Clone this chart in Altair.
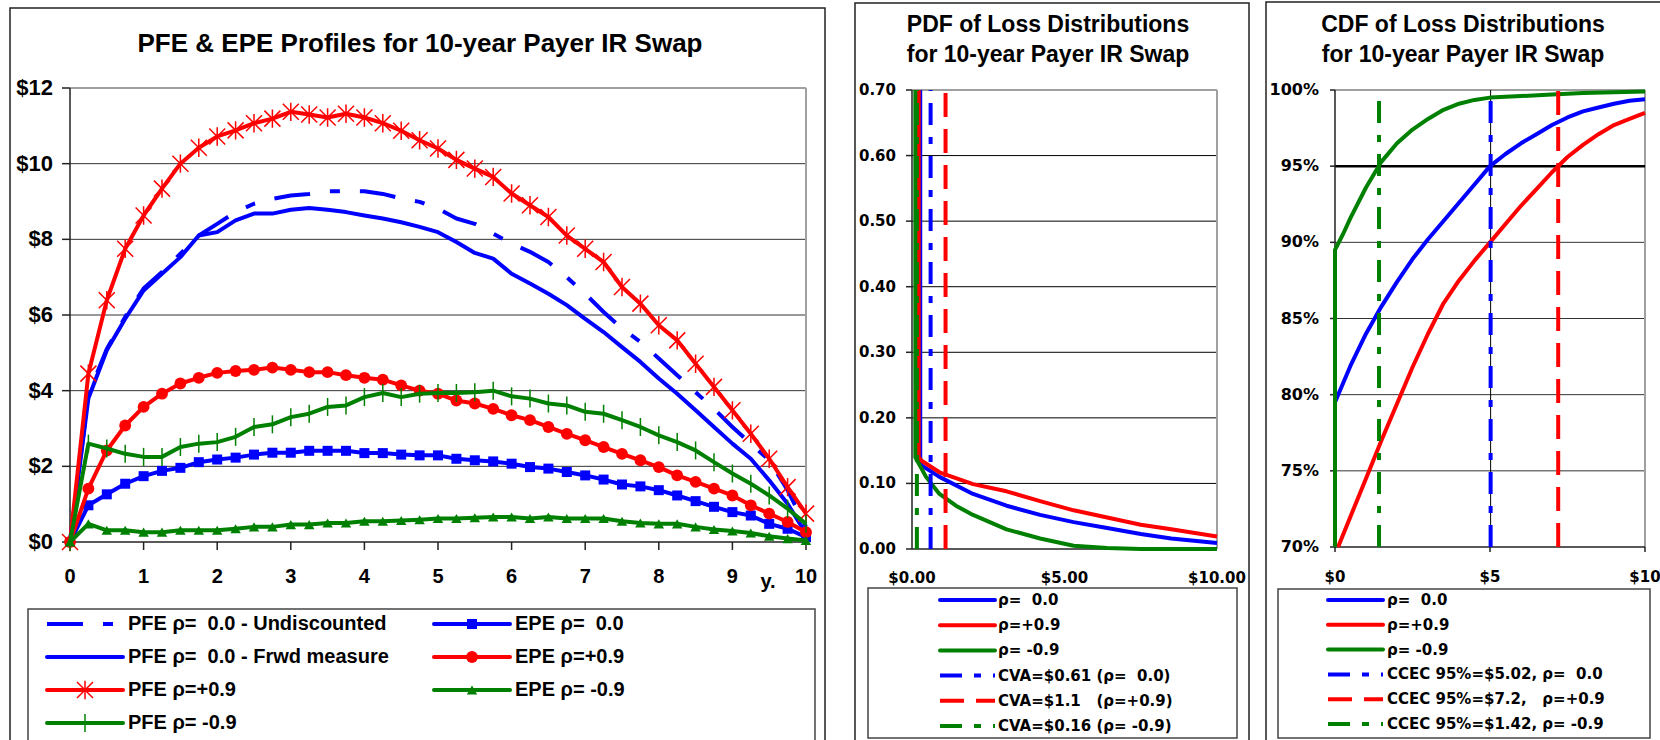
import altair as alt
import pandas as pd

# ---------------- exposure profiles (quarterly grid, years) ----------------
T = [i * 0.25 for i in range(41)]

PFE_UNDISC = [0, 3.9, 5.1, 5.95, 6.7, 7.14, 7.62, 8.1, 8.41, 8.72,
              8.94, 9.07, 9.16, 9.2, 9.27, 9.27, 9.27, 9.2, 9.08, 8.99,
              8.81, 8.55, 8.41, 8.15, 7.89, 7.67, 7.4, 7.0, 6.56, 6.08,
              5.64, 5.29, 4.85, 4.41, 3.96, 3.52, 3.04, 2.6, 2.16, 1.37, 0.4]
PFE_FRWD = [0, 3.8, 5.07, 5.9, 6.65, 7.09, 7.53, 8.1, 8.19, 8.5,
            8.68, 8.68, 8.78, 8.83, 8.78, 8.72, 8.63, 8.55, 8.45, 8.33,
            8.19, 7.93, 7.64, 7.49, 7.09, 6.83, 6.56, 6.26, 5.9, 5.55,
            5.15, 4.76, 4.32, 3.92, 3.48, 3.04, 2.6, 2.2, 1.63, 1.01, 0.22]
PFE_POS = [0, 4.45, 6.39, 7.75, 8.63, 9.34, 10.0, 10.42, 10.72, 10.88,
           11.07, 11.19, 11.37, 11.30, 11.22, 11.32, 11.22, 11.07, 10.87, 10.62,
           10.40, 10.10, 9.87, 9.65, 9.21, 8.90, 8.59, 8.10, 7.75, 7.40,
           6.74, 6.30, 5.73, 5.33, 4.71, 4.10, 3.48, 2.86, 2.20, 1.45, 0.75]
PFE_NEG = [0, 2.6, 2.47, 2.33, 2.25, 2.25, 2.51, 2.6, 2.64, 2.78,
           3.04, 3.11, 3.3, 3.39, 3.57, 3.61, 3.83, 3.94, 3.83, 3.92,
           3.94, 3.94, 3.96, 4.0, 3.85, 3.79, 3.66, 3.61, 3.44, 3.39,
           3.22, 3.04, 2.82, 2.64, 2.42, 2.11, 1.81, 1.54, 1.23, 0.88, 0.48]
EPE_ZERO = [0, 0.97, 1.26, 1.54, 1.74, 1.88, 1.96, 2.11, 2.18, 2.23,
            2.31, 2.36, 2.36, 2.41, 2.41, 2.41, 2.35, 2.35, 2.31, 2.29,
            2.29, 2.2, 2.16, 2.13, 2.07, 1.98, 1.94, 1.85, 1.76, 1.65,
            1.52, 1.47, 1.37, 1.23, 1.08, 0.93, 0.79, 0.7, 0.48, 0.35, 0.13]
EPE_POS = [0, 1.41, 2.42, 3.08, 3.57, 3.92, 4.19, 4.34, 4.47, 4.52,
           4.55, 4.61, 4.55, 4.49, 4.49, 4.41, 4.34, 4.29, 4.14, 4.0,
           3.92, 3.74, 3.66, 3.52, 3.35, 3.22, 3.04, 2.86, 2.69, 2.51,
           2.33, 2.16, 1.98, 1.76, 1.59, 1.41, 1.23, 0.97, 0.75, 0.53, 0.26]
EPE_NEG = [0, 0.48, 0.31, 0.31, 0.26, 0.26, 0.31, 0.31, 0.31, 0.35,
           0.4, 0.4, 0.46, 0.46, 0.5, 0.5, 0.55, 0.55, 0.57, 0.59,
           0.62, 0.62, 0.64, 0.66, 0.66, 0.62, 0.66, 0.62, 0.62, 0.62,
           0.55, 0.5, 0.48, 0.48, 0.4, 0.33, 0.29, 0.24, 0.15, 0.09, 0.04]
YEAR_TICKS = list(range(11))
USD_TICKS = [0, 2, 4, 6, 8, 10, 12]

# ---------------- PDF of loss distributions ----------------
PDF_ZERO_X = [0.27, 0.27, 0.30, 0.9, 2.0, 3.1, 4.2, 5.3, 6.4, 7.5, 8.5, 10.0]
PDF_ZERO_Y = [0.70, 0.14, 0.128, 0.110, 0.084, 0.066, 0.052, 0.041, 0.032, 0.023, 0.016, 0.009]
PDF_POS_X = [0.22, 0.22, 0.30, 0.9, 2.0, 3.1, 4.2, 5.3, 6.4, 7.5, 8.5, 10.0]
PDF_POS_Y = [0.70, 0.14, 0.135, 0.117, 0.099, 0.088, 0.073, 0.059, 0.048, 0.037, 0.030, 0.019]
PDF_NEG_X = [0.11, 0.11, 0.46, 0.9, 1.44, 2.0, 3.1, 4.2, 5.3, 6.4, 7.5, 10.0]
PDF_NEG_Y = [0.70, 0.14, 0.110, 0.084, 0.066, 0.052, 0.030, 0.016, 0.005, 0.0015, 0.0, 0.0]
CVA = [0.61, 1.1, 0.16]
LOSS_TICKS = [0, 5, 10]
DENSITY_TICKS = [0, 0.1, 0.2, 0.3, 0.4, 0.5, 0.6, 0.7]

# ---------------- CDF of loss distributions (percent) ----------------
CDF_ZERO_X = [i * 0.5 for i in range(21)]
CDF_ZERO = [79.5, 81.9, 84.0, 85.8, 87.4, 88.9, 90.2, 91.4, 92.6, 93.8, 95.0,
            95.8, 96.5, 97.1, 97.7, 98.2, 98.6, 98.85, 99.1, 99.3, 99.4]
CDF_POS_X = [0.1] + [i * 0.5 for i in range(1, 21)]
CDF_POS = [70.0, 72.0, 74.5, 77.0, 79.4, 81.8, 84.0, 86.0, 87.5, 88.8, 90.0,
           91.2, 92.4, 93.5, 94.6, 95.6, 96.4, 97.1, 97.7, 98.1, 98.5]
CDF_NEG_X = [0, 0, 0.25, 0.5, 1, 1.5, 2, 2.5, 3, 3.5, 4, 4.5, 5, 6, 7, 8, 9, 10]
CDF_NEG = [70, 89.5, 90.5, 91.6, 93.6, 95.3, 96.5, 97.4, 98.1, 98.7, 99.1,
           99.35, 99.5, 99.6, 99.7, 99.8, 99.85, 99.9]
CCEC = [5.02, 7.2, 1.42]
PCT_TICKS = [70, 75, 80, 85, 90, 95, 100]

# ---------------- styling ----------------
W, H = 1660, 740
SANS = "Liberation Sans, Arial, sans-serif"
WIDE = "DejaVu Sans, Verdana, sans-serif"
BLUE, RED, GREEN = "#0000ff", "#ff0000", "#008000"
GRID, FRAME, AXIS = "#333333", "#a0a0a0", "#222222"
DASH_LONG_SHORT = [36, 20, 10, 20]
DASH_V_DOT = [22, 12, 7, 12]
DASH_V = [24, 12]
NB = "\u00a0"

ASTERISK = "M-1,-1L1,1M-1,1L1,-1M0,-1.15L0,1.15"
VTICK = "M0,-1L0,1"

ONE = pd.DataFrame({"k": [0]})


def lin(domain, rng):
    return alt.Scale(domain=domain, range=rng, nice=False, zero=False)


def curve(xv, yv, xs, ys, color, width=4, dash=None):
    d = pd.DataFrame({"x": xv, "y": yv, "i": range(len(xv))})
    kw = dict(color=color, strokeWidth=width, strokeJoin="round")
    if dash:
        kw["strokeDash"] = dash
    return alt.Chart(d).mark_line(**kw).encode(
        x=alt.X("x:Q", scale=xs, axis=None),
        y=alt.Y("y:Q", scale=ys, axis=None),
        order="i:Q",
    )


def markers(xv, yv, xs, ys, color, shape, size, filled=True, stroke_w=1.5):
    d = pd.DataFrame({"x": xv, "y": yv})
    kw = dict(shape=shape, size=size, color=color, opacity=1, filled=filled)
    if not filled:
        kw["strokeWidth"] = stroke_w
    return alt.Chart(d).mark_point(**kw).encode(
        x=alt.X("x:Q", scale=xs, axis=None), y=alt.Y("y:Q", scale=ys, axis=None))


def hgrid(levels, lo, hi, xs, ys, color=GRID, width=1):
    d = pd.DataFrame({"g": levels, "a": lo, "b": hi})
    return alt.Chart(d).mark_rule(color=color, strokeWidth=width).encode(
        y=alt.Y("g:Q", scale=ys, axis=None), x=alt.X("a:Q", scale=xs, axis=None), x2="b:Q")


def vlines(positions, lo, hi, xs, ys, color, width, dash=None):
    d = pd.DataFrame({"p": positions, "a": lo, "b": hi})
    kw = dict(color=color, strokeWidth=width)
    if dash:
        kw["strokeDash"] = dash
    return alt.Chart(d).mark_rule(**kw).encode(
        x=alt.X("p:Q", scale=xs, axis=None), y=alt.Y("a:Q", scale=ys, axis=None), y2="b:Q")


def axes(xs, ys, xticks, yticks, xlabels, ylabels, font, xsize, ysize,
         xtick_len, ytick_len, x_dy, y_dx):
    """Axis lines, tick marks and tick labels drawn through the panel scales."""
    x0, x1 = xticks[0], xticks[-1]
    y0, y1 = yticks[0], yticks[-1]
    xd = pd.DataFrame({"v": xticks, "b": y0, "lab": xlabels})
    yd = pd.DataFrame({"v": yticks, "b": x0, "lab": ylabels})
    layers = [
        hgrid([y0], x0, x1, xs, ys, color=AXIS, width=1.5),
        vlines([x0], y0, y1, xs, ys, AXIS, 1.5),
        alt.Chart(xd).mark_text(baseline="middle", dy=x_dy, font=font, fontSize=xsize,
                                fontWeight="bold", color="black").encode(
            x=alt.X("v:Q", scale=xs, axis=None), y=alt.Y("b:Q", scale=ys, axis=None),
            text="lab:N"),
        alt.Chart(yd).mark_text(align="right", baseline="middle", dx=-y_dx, font=font,
                                fontSize=ysize, fontWeight="bold", color="black").encode(
            y=alt.Y("v:Q", scale=ys, axis=None), x=alt.X("b:Q", scale=xs, axis=None),
            text="lab:N"),
    ]
    if xtick_len:
        layers.append(alt.Chart(xd).mark_rule(color=AXIS, strokeWidth=1.5, y2Offset=xtick_len).encode(
            x=alt.X("v:Q", scale=xs, axis=None), y=alt.Y("b:Q", scale=ys, axis=None), y2="b:Q"))
    if ytick_len:
        layers.append(alt.Chart(yd).mark_rule(color=AXIS, strokeWidth=1.5, x2Offset=-ytick_len).encode(
            y=alt.Y("v:Q", scale=ys, axis=None), x=alt.X("b:Q", scale=xs, axis=None), x2="b:Q"))
    return layers


# ---------------- left panel: PFE & EPE profiles ----------------
xs_l = lin([0, 10], [70, 806])
ys_l = lin([0, 12], [542, 88])

left_plot = alt.layer(
    hgrid([2, 4, 6, 8, 10], 0, 10, xs_l, ys_l),
    hgrid([12], 0, 10, xs_l, ys_l, color=FRAME, width=2),
    vlines([10], 0, 12, xs_l, ys_l, FRAME, 2),
    *axes(xs_l, ys_l, YEAR_TICKS, USD_TICKS,
          [str(v) for v in YEAR_TICKS], [f"${v}" for v in USD_TICKS],
          SANS, 20, 22, 8, 8, 35, 17),
    curve(T, PFE_UNDISC, xs_l, ys_l, BLUE, dash=DASH_LONG_SHORT),
    curve(T, EPE_ZERO, xs_l, ys_l, BLUE),
    markers(T, EPE_ZERO, xs_l, ys_l, BLUE, "square", 100),
    curve(T, PFE_FRWD, xs_l, ys_l, BLUE),
    curve(T, EPE_POS, xs_l, ys_l, RED),
    markers(T, EPE_POS, xs_l, ys_l, RED, "circle", 140),
    curve(T, PFE_POS, xs_l, ys_l, RED),
    markers(T, PFE_POS, xs_l, ys_l, RED, ASTERISK, 256, filled=False),
    curve(T, EPE_NEG, xs_l, ys_l, GREEN),
    markers(T, EPE_NEG, xs_l, ys_l, GREEN, "triangle-up", 110),
    curve(T, PFE_NEG, xs_l, ys_l, GREEN),
    markers(T, PFE_NEG, xs_l, ys_l, GREEN, VTICK, 324, filled=False),
)

# ---------------- middle panel: PDF ----------------
xs_m = lin([0, 10], [912, 1217])
ys_m = lin([0, 0.7], [549, 90])

mid_plot = alt.layer(
    hgrid([0.1, 0.2, 0.3, 0.4, 0.5, 0.6], 0, 10, xs_m, ys_m, color="#000000"),
    hgrid([0.7], 0, 10, xs_m, ys_m, color=FRAME, width=2),
    vlines([10], 0, 0.7, xs_m, ys_m, FRAME, 2),
    *axes(xs_m, ys_m, LOSS_TICKS, DENSITY_TICKS,
          [f"${v:.2f}" for v in LOSS_TICKS], [f"{v:.2f}" for v in DENSITY_TICKS],
          WIDE, 15, 15, 0, 6, 29, 16),
    curve(PDF_ZERO_X, PDF_ZERO_Y, xs_m, ys_m, BLUE),
    curve(PDF_POS_X, PDF_POS_Y, xs_m, ys_m, RED),
    curve(PDF_NEG_X, PDF_NEG_Y, xs_m, ys_m, GREEN),
    vlines([CVA[0]], 0, 0.7, xs_m, ys_m, BLUE, 4, DASH_V_DOT),
    vlines([CVA[1]], 0, 0.7, xs_m, ys_m, RED, 4, DASH_V),
    vlines([CVA[2]], 0, 0.7, xs_m, ys_m, GREEN, 4, DASH_V_DOT),
)

# ---------------- right panel: CDF ----------------
xs_r = lin([0, 10], [1335, 1645])
ys_r = lin([70, 100], [547, 90])

right_plot = alt.layer(
    hgrid([75, 80, 85, 90], 0, 10, xs_r, ys_r),
    hgrid([100], 0, 10, xs_r, ys_r, color=FRAME, width=2),
    vlines([10], 70, 100, xs_r, ys_r, FRAME, 2),
    hgrid([95], 0, 10, xs_r, ys_r, color="#000000", width=2.5),
    vlines([CCEC[0]], 70, 100, xs_r, ys_r, "#000000", 1),
    *axes(xs_r, ys_r, LOSS_TICKS, PCT_TICKS,
          [f"${v}" for v in LOSS_TICKS], [f"{v}%" for v in PCT_TICKS],
          WIDE, 15, 16, 5, 5, 30, 16),
    curve(CDF_ZERO_X, CDF_ZERO, xs_r, ys_r, BLUE),
    curve(CDF_POS_X, CDF_POS, xs_r, ys_r, RED),
    curve(CDF_NEG_X, CDF_NEG, xs_r, ys_r, GREEN),
    vlines([CCEC[0]], 70, 100, xs_r, ys_r, BLUE, 4, DASH_V_DOT),
    vlines([CCEC[1]], 70, 100, xs_r, ys_r, RED, 4, DASH_V),
    vlines([CCEC[2]], 70, 100, xs_r, ys_r, GREEN, 4, DASH_V_DOT),
)


# ---------------- legends ----------------
def legend(entries, xs, ys, sample, text_dx, font, size):
    layers = []
    for col, row, label, color, dash, mk in entries:
        d = pd.DataFrame({"c": [col], "r": [row], "label": [label]})
        enc = dict(x=alt.X("c:Q", scale=xs, axis=None), y=alt.Y("r:Q", scale=ys, axis=None))
        kw = dict(color=color, strokeWidth=4, x2Offset=sample)
        if dash:
            kw["strokeDash"] = dash
        else:
            kw["strokeCap"] = "round"
        layers.append(alt.Chart(d).mark_rule(**kw).encode(x2="c:Q", **enc))
        if mk:
            shape, msize, filled = mk
            mkw = dict(shape=shape, size=msize, color=color, opacity=1, filled=filled,
                       xOffset=sample / 2)
            if not filled:
                mkw["strokeWidth"] = 1.5
            layers.append(alt.Chart(d).mark_point(**mkw).encode(**enc))
        layers.append(alt.Chart(d).mark_text(
            align="left", baseline="middle", dx=text_dx, font=font, fontSize=size,
            fontWeight="bold", color="black").encode(text="label:N", **enc))
    return alt.layer(*layers)


LEFT_LEGEND = [
    (0, 0, f"PFE ρ={NB} 0.0 - Undiscounted", BLUE, DASH_LONG_SHORT, None),
    (1, 0, f"EPE ρ={NB} 0.0", BLUE, None, ("square", 100, True)),
    (0, 1, f"PFE ρ={NB} 0.0 - Frwd measure", BLUE, None, None),
    (1, 1, "EPE ρ=+0.9", RED, None, ("circle", 140, True)),
    (0, 2, "PFE ρ=+0.9", RED, None, (ASTERISK, 256, False)),
    (1, 2, "EPE ρ= -0.9", GREEN, None, ("triangle-up", 110, True)),
    (0, 3, "PFE ρ= -0.9", GREEN, None, (VTICK, 324, False)),
]
MID_LEGEND = [
    (0, 0, f"ρ={NB} 0.0", BLUE, None, None),
    (0, 1, "ρ=+0.9", RED, None, None),
    (0, 2, "ρ= -0.9", GREEN, None, None),
    (0, 3, f"CVA=$0.61 (ρ={NB} 0.0)", BLUE, DASH_V_DOT, None),
    (0, 4, f"CVA=$1.1{NB}{NB} (ρ=+0.9)", RED, DASH_V, None),
    (0, 5, "CVA=$0.16 (ρ= -0.9)", GREEN, DASH_V_DOT, None),
]
RIGHT_LEGEND = [
    (0, 0, f"ρ={NB} 0.0", BLUE, None, None),
    (0, 1, "ρ=+0.9", RED, None, None),
    (0, 2, "ρ= -0.9", GREEN, None, None),
    (0, 3, f"CCEC 95%=$5.02, ρ={NB} 0.0", BLUE, DASH_V_DOT, None),
    (0, 4, f"CCEC 95%=$7.2,{NB}{NB} ρ=+0.9", RED, DASH_V, None),
    (0, 5, "CCEC 95%=$1.42, ρ= -0.9", GREEN, DASH_V_DOT, None),
]

left_legend = legend(LEFT_LEGEND, lin([0, 1], [47, 434]), lin([0, 3], [624, 723]), 76, 81, SANS, 20)
mid_legend = legend(MID_LEGEND, lin([0, 1], [940, 1240]), lin([0, 5], [600, 726]), 55, 58, WIDE, 15)
right_legend = legend(RIGHT_LEGEND, lin([0, 1], [1328, 1628]), lin([0, 5], [600, 724]), 55, 59, WIDE, 15)


# ---------------- frames and titles ----------------
def box(x1, y1, x2, y2, color="#222222", width=1.5):
    return alt.Chart(ONE).mark_rect(fillOpacity=0, stroke=color, strokeWidth=width).encode(
        x=alt.value(x1), y=alt.value(y1), x2=alt.value(x2), y2=alt.value(y2))


def label(text, x, y, font, size, line_height=None):
    kw = dict(text=text, font=font, fontSize=size, fontWeight="bold", color="black",
              align="center", baseline="middle")
    if line_height:
        kw["lineHeight"] = line_height
    return alt.Chart(ONE).mark_text(**kw).encode(x=alt.value(x), y=alt.value(y))


frames = alt.layer(
    box(10, 8, 825, 790),
    box(855, 3, 1249, 790),
    box(1266, 2, 1720, 790),
)
legend_frames = alt.layer(
    box(28, 609, 815, 790, color="#444444"),
    box(868, 588, 1237, 738, color="#444444"),
    box(1278, 589, 1650, 738, color="#444444"),
)
titles = alt.layer(
    label("PFE & EPE Profiles for 10-year Payer IR Swap", 420, 44, SANS, 26),
    label(["PDF of Loss Distributions", "for 10-year Payer IR Swap"], 1048, 25, SANS, 23, 30),
    label(["CDF of Loss Distributions", "for 10-year Payer IR Swap"], 1463, 25, SANS, 23, 30),
    label("y.", 768, 582, SANS, 20),
)

chart = alt.layer(
    frames, left_plot, mid_plot, right_plot,
    legend_frames, left_legend, mid_legend, right_legend, titles,
).resolve_scale(x="independent", y="independent").properties(
    width=W, height=H, padding=0, autosize=alt.AutoSizeParams(type="none"),
    background="white",
).configure_view(strokeWidth=0)

chart.save("out.html", embed_options={"renderer": "svg", "actions": False})
